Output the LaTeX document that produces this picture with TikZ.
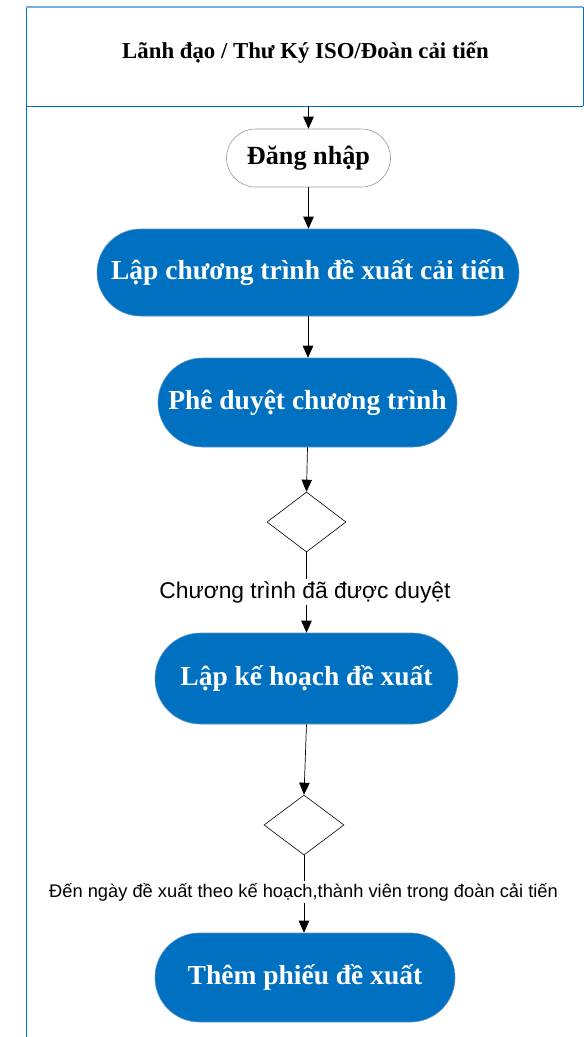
\documentclass[tikz,border=0pt]{standalone}
\usepackage{fontspec}
\setmainfont{Liberation Serif}
\newfontfamily\labelfont{Liberation Sans}
\usetikzlibrary{shapes.geometric,arrows.meta}
\definecolor{poolblue}{RGB}{0,112,192}
\definecolor{pooltop}{RGB}{120,175,225}
\definecolor{boxblue}{RGB}{0,112,192}
\definecolor{boxedge}{RGB}{90,150,205}
\tikzset{
  x=1pt, y=-1pt,
  procbox/.style={rectangle, fill=boxblue, draw=boxedge, line width=0.6pt, text=white,
    font=\fontsize{27.5}{30}\selectfont\bfseries, inner sep=0pt},
  startbox/.style={rectangle, fill=white, draw=gray!80, line width=0.6pt, text=black,
    font=\fontsize{26.2}{30}\selectfont\bfseries, inner sep=0pt},
  decision/.style={diamond, draw=black, line width=0.6pt, inner sep=0pt},
  flowlabel/.style={inner sep=2pt, text=black},
  conn/.style={draw=black, line width=0.7pt},
  arr/.style={conn, -{Triangle[length=12pt,width=10.5pt]}},
}
\begin{document}
\begin{tikzpicture}
\useasboundingbox (0,0) rectangle (584,1037);
% pool
\draw[poolblue, line width=1pt] (26,7) -- (26,1037);
\draw[poolblue, line width=1pt] (583,7) -- (583,106);
\draw[poolblue, line width=1pt] (26,106) -- (583,106);
\draw[pooltop, line width=2pt] (26,7) -- (583,7);
\node[font=\fontsize{22.8}{26}\selectfont\bfseries] (hdr) at (305.5,53) {Lãnh đạo / Thư Ký ISO/Đoàn cải tiến};
\coordinate (div) at (308.5,106);
% nodes
\node[startbox, minimum width=164pt, minimum height=58pt, rounded corners=29pt] (login) at (308.5,158) {Đăng nhập};
\node[procbox, minimum width=422pt, minimum height=87pt, rounded corners=43.5pt] (b1) at (308,272.5) {Lập chương trình đề xuất cải tiến};
\node[procbox, minimum width=299pt, minimum height=89pt, rounded corners=44.5pt] (b2) at (307.5,402.5) {Phê duyệt chương trình};
\node[decision, minimum width=79pt, minimum height=60pt] (d1) at (306.5,522) {};
\node[flowlabel, font=\labelfont\fontsize{22.8}{26}\selectfont] (l1) at (305,592) {Chương trình đã được duyệt};
\node[procbox, minimum width=303pt, minimum height=91pt, rounded corners=45.5pt] (b3) at (306.5,678.5) {Lập kế hoạch đề xuất};
\node[decision, minimum width=80pt, minimum height=60pt] (d2) at (304,825) {};
\node[flowlabel, font=\labelfont\fontsize{18.3}{21}\selectfont] (l2) at (303.5,892) {Đến ngày đề xuất theo kế hoạch,thành viên trong đoàn cải tiến};
\node[procbox, minimum width=300pt, minimum height=89pt, rounded corners=44.5pt] (b4) at (305,977.5) {Thêm phiếu đề xuất};
% connectors
\draw[arr] (div) -- (login.north);
\draw[arr] (login.south) -- (b1.north -| login.south);
\draw[arr] (b1.south) -- (b2.north -| b1.south);
\draw[arr] (b2.south) -- (d1.north);
\draw[conn] (d1.south) -- (l1.north -| d1.south);
\draw[arr] (l1.south -| d1.south) -- (b3.north -| d1.south);
\draw[arr] (b3.south) -- (d2.north);
\draw[conn] (d2.south) -- (l2.north -| d2.south);
\draw[arr] (l2.south -| d2.south) -- (b4.north -| d2.south);
\end{tikzpicture}
\end{document}
